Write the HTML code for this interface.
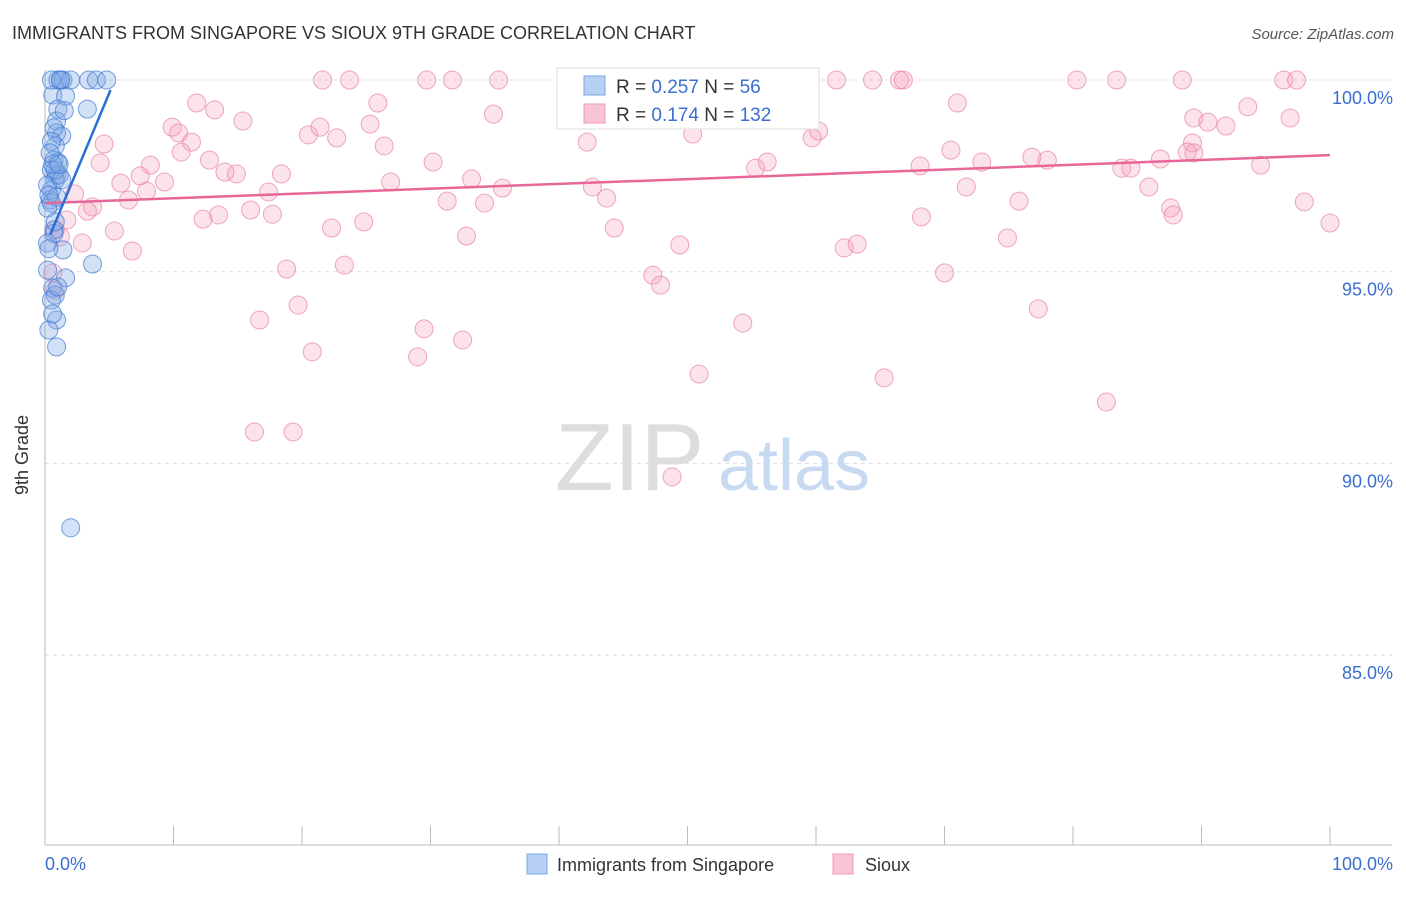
<!DOCTYPE html>
<html><head><meta charset="utf-8"><style>
body{margin:0;background:#fff;font-family:"Liberation Sans",sans-serif;}
svg text{font-family:"Liberation Sans",sans-serif;}
</style></head><body>
<svg width="1406" height="892">
<text x="12" y="39" font-size="18" fill="#333">IMMIGRANTS FROM SINGAPORE VS SIOUX 9TH GRADE CORRELATION CHART</text>
<text x="1394" y="39" font-size="15" fill="#555" text-anchor="end" font-style="italic">Source: ZipAtlas.com</text>
<g id="grid"></g>
<text x="555" y="490" font-size="96" fill="#ddd" font-family="Liberation Serif">ZIP</text>
<text x="718" y="490" font-size="72" fill="#c8daf2">atlas</text>
<g id="axes"></g>
<g id="marks"></g>
<text x="28" y="455" font-size="18" fill="#333" transform="rotate(-90 28 455)" text-anchor="middle">9th Grade</text>
<g>
<rect x="557" y="68" width="262" height="61" fill="#fff" stroke="#ddd"/>
<rect x="584" y="76" width="21" height="19" fill="#b7d0f3" stroke="#7aa6e4"/>
<rect x="584" y="104" width="21" height="19" fill="#f9c5d5" stroke="#ee9bb5"/>
<text x="616" y="93" font-size="19" fill="#333">R = <tspan fill="#3a6fd0">0.257</tspan>   N = <tspan fill="#3a6fd0"> 56</tspan></text>
<text x="616" y="121" font-size="19" fill="#333">R =  <tspan fill="#3a6fd0">0.174</tspan>   N = <tspan fill="#3a6fd0">132</tspan></text>
</g>
<g>
<rect x="527" y="854" width="20" height="20" fill="#b7d0f3" stroke="#7aa6e4"/>
<text x="557" y="871" font-size="18" fill="#333">Immigrants from Singapore</text>
<rect x="833" y="854" width="20" height="20" fill="#f9c5d5" stroke="#ee9bb5"/>
<text x="865" y="871" font-size="18" fill="#333">Sioux</text>
</g>
</svg>
<script>
const yTicks=[100,95,90,85];
const yTickLabels=["100.0%","95.0%","90.0%","85.0%"];
const xTickLabels=["0.0%","100.0%"];
const siouxX=[21.6,23.7,29.7,31.7,35.3,46.3,48.0,51.0,54.1,55.6,61.6,64.4,66.5,66.8,80.3,83.4,88.5,96.4,97.4,
11.8,13.2,25.9,15.4,9.9,10.4,11.4,4.6,10.6,20.5,21.4,22.7,25.3,26.4,34.9,42.2,50.4,60.2,59.7,71.0,89.4,90.5,91.9,93.6,96.9,89.3,
12.8,4.3,8.2,7.4,5.9,9.3,14.0,14.9,18.4,17.4,13.5,12.3,16.0,17.7,6.5,7.9,2.3,3.7,3.3,1.7,5.4,1.2,2.9,6.8,26.9,30.2,33.2,35.6,34.2,31.3,42.6,43.7,44.3,32.8,22.3,24.8,23.3,18.8,19.7,16.7,20.8,29.5,29.0,32.5,16.3,19.3,47.3,47.9,49.4,50.9,54.3,55.3,56.2,62.2,63.2,68.1,70.5,71.7,72.9,68.2,70.0,74.9,75.8,77.3,76.8,78.0,65.3,82.6,83.8,84.5,85.9,86.8,87.6,87.8,88.9,89.4,94.6,98.0,100,48.8,0.8,0.8,0.6,40.6];
const siouxY=[100,100,100,100,100,100,100,100,100,100,100,100,100,100,100,100,100,100,100,
99.40,99.22,99.40,98.93,98.77,98.62,98.38,98.33,98.12,98.57,98.77,98.49,98.85,98.28,99.11,98.38,98.59,98.67,98.49,99.40,99.01,98.90,98.80,99.30,99.01,98.36,
97.91,97.84,97.78,97.50,97.31,97.34,97.60,97.55,97.55,97.08,96.48,96.37,96.61,96.50,96.87,97.10,97.03,96.69,96.58,96.35,96.06,95.91,95.75,95.54,97.34,97.86,97.42,97.18,96.79,96.84,97.21,96.92,96.14,95.93,96.14,96.30,95.17,95.07,94.13,93.74,92.91,93.51,92.78,93.22,90.82,90.82,94.91,94.65,95.70,92.33,93.66,97.70,97.86,95.62,95.72,97.76,98.17,97.21,97.86,96.43,94.97,95.88,96.84,94.03,97.99,97.91,92.23,91.60,97.70,97.70,97.21,97.94,96.66,96.48,98.12,98.10,97.78,96.82,96.27,89.65,96.09,94.52,94.97,99.22];
const singX=[1.0,1.2,1.4,2.0,3.4,4.0,4.8,0.6,1.6,1.0,3.3,0.9,0.9,1.3,0.8,0.7,1.0,0.5,0.9,0.8,0.5,0.4,0.5,0.2,0.7,0.2,1.4,0.2,1.6,3.7,0.6,0.8,0.5,0.9,0.3,0.9,2.0,0.5,1.2,0.2,0.7,1.1,0.9,0.8,0.5,0.3,0.6,0.7,1.0,1.3,0.4,1.5,0.8,0.6,1.1,0.3];
const singY=[100,100,100,100,100,100,100,99.61,99.58,99.24,99.24,98.93,98.62,98.54,98.28,97.91,97.86,97.65,97.52,97.39,97.13,96.87,96.79,96.66,96.09,95.75,95.57,95.04,94.84,95.20,94.57,94.39,94.26,93.74,93.48,93.04,88.32,100,100,97.26,98.75,97.52,96.95,97.65,98.40,97.00,97.80,96.00,94.60,97.40,98.10,99.20,96.30,93.90,97.80,95.60];
const siouxTrend=[[0,96.79],[100,98.04]];
const singTrend=[[0.4,95.96],[5.1,99.74]];
const NS="http://www.w3.org/2000/svg";
const sx=v=>45+v*12.85, sy=v=>80+(100-v)*38.34;
function mk(tag,attrs,parent){const e=document.createElementNS(NS,tag);for(const k in attrs)e.setAttribute(k,attrs[k]);parent.appendChild(e);return e;}
const grid=document.getElementById('grid'),axes=document.getElementById('axes'),marks=document.getElementById('marks');
yTicks.forEach((t,i)=>{
 const l=mk('line',{x1:45,x2:1392,y1:sy(t),y2:sy(t),stroke:'#ddd','stroke-dasharray':'4,4'},grid);
 
 
 const tx=mk('text',{x:1393,y:sy(t)+24,'font-size':18,fill:'#3a6fd0','text-anchor':'end'},axes);
 tx.textContent=yTickLabels[i];
 
 
});
const yax=mk('line',{x1:45,x2:45,y1:70,y2:845,stroke:'#bbb'},axes);


const xax=mk('line',{x1:45,x2:1392,y1:845,y2:845,stroke:'#bbb'},axes);


for(let i=1;i<=10;i++){const t=mk('line',{x1:sx(i*10),x2:sx(i*10),y1:826,y2:845,stroke:'#bbb'},axes);
 
 }
[[0,'start'],[100,'end']].forEach((p,i)=>{const t=mk('text',{x:i?1393:45,y:870,'font-size':18,fill:'#3a6fd0','text-anchor':p[1]},axes);t.textContent=xTickLabels[i];
 
 });
siouxX.forEach((x,i)=>{const c=mk('circle',{cx:sx(x),cy:sy(siouxY[i]),r:9,fill:'rgba(244,160,185,0.3)',stroke:'rgba(232,130,165,0.7)','stroke-width':1},marks);
 
 });
singX.forEach((x,i)=>{const c=mk('circle',{cx:sx(x),cy:sy(singY[i]),r:9,fill:'rgba(130,170,230,0.35)',stroke:'rgba(60,120,210,0.7)','stroke-width':1},marks);
 
 });
const t1=mk('line',{x1:sx(siouxTrend[0][0]),y1:sy(siouxTrend[0][1]),x2:sx(siouxTrend[1][0]),y2:sy(siouxTrend[1][1]),stroke:'#e8679a','stroke-width':2.5},marks);


const t2=mk('line',{x1:sx(singTrend[0][0]),y1:sy(singTrend[0][1]),x2:sx(singTrend[1][0]),y2:sy(singTrend[1][1]),stroke:'#2a6fd6','stroke-width':2.5},marks);


</script>
</body></html>
